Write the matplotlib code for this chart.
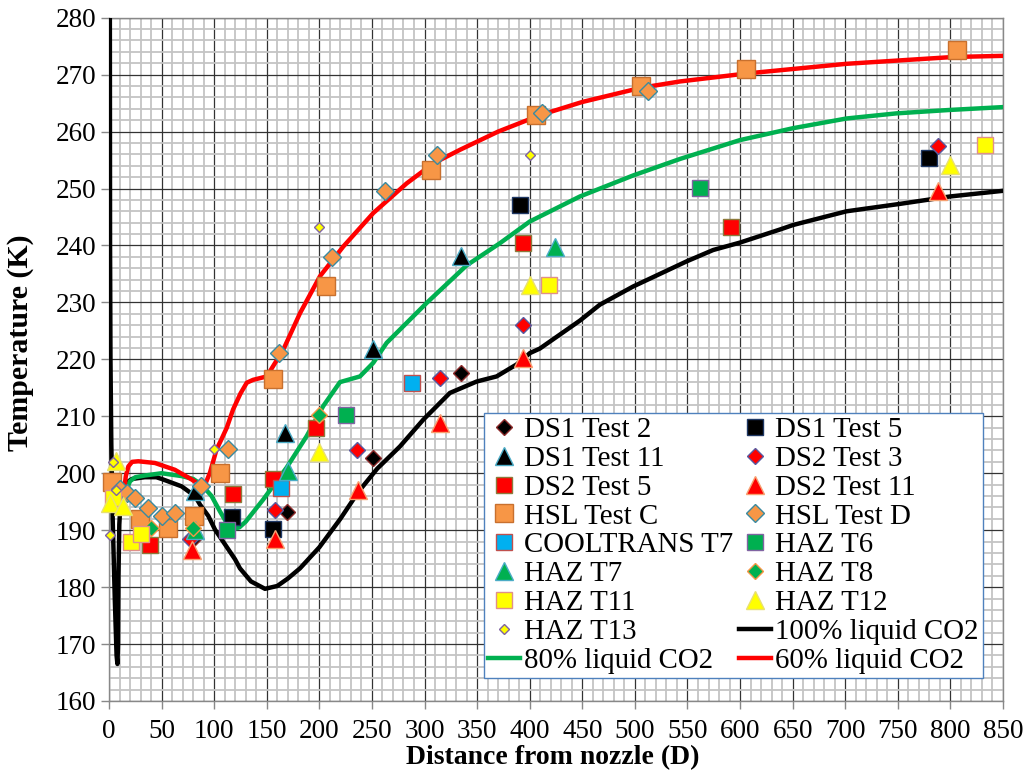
import matplotlib
matplotlib.use("Agg")
import matplotlib.pyplot as plt
from matplotlib.ticker import MultipleLocator

plt.rcParams['font.family'] = ['Liberation Serif', 'DejaVu Serif']

# ---------------- data ----------------
ds1_t2_x = [80, 169, 251, 335]
ds1_t2_y = [188.5, 193.2, 202.6, 217.6]
ds1_t5_x = [117, 156, 391, 780]
ds1_t5_y = [192.3, 190.2, 247.1, 255.3]
ds1_t11_x = [82, 167, 251, 335]
ds1_t11_y = [196.8, 207.1, 221.8, 238.1]
ds2_t3_x = [77, 158, 236, 315, 394, 788]
ds2_t3_y = [188.5, 193.6, 204.1, 216.7, 226.1, 257.4]
ds2_t5_x = [39, 118, 156, 197, 394, 591]
ds2_t5_y = [187.4, 196.3, 198.9, 208.0, 240.4, 243.3]
ds2_t11_x = [79, 158, 237, 315, 394, 788]
ds2_t11_y = [186.6, 188.4, 197.1, 208.8, 220.2, 249.6]
hsl_c_x = [3, 29, 56, 81, 106, 156, 206, 306, 406, 506, 606, 806]
hsl_c_y = [198.5, 191.9, 190.4, 192.5, 200.1, 216.6, 232.8, 253.3, 262.9, 268.0, 271.0, 274.3]
hsl_d_x = [10, 17, 25, 37, 50, 63, 87, 113, 162, 212, 262, 312, 412, 512]
hsl_d_y = [197.2, 196.5, 195.7, 193.9, 192.5, 193.1, 197.7, 204.3, 221.1, 237.9, 249.6, 255.9, 263.3, 267.1]
cool_t7_x = [164, 288]
cool_t7_y = [197.4, 215.9]
haz_t6_x = [112, 225, 562]
haz_t6_y = [190.1, 210.2, 250.1]
haz_t7_x = [82, 170, 424]
haz_t7_y = [190.1, 200.4, 239.8]
haz_t8_x = [40, 80, 200]
haz_t8_y = [190.4, 190.3, 210.2]
haz_t11_x = [4, 21, 30, 418, 833]
haz_t11_y = [195.7, 187.9, 189.4, 233.1, 257.7]
haz_t12_x = [1, 7, 13, 200, 400, 800]
haz_t12_y = [194.8, 202.2, 194.2, 203.8, 233.1, 254.2]
haz_t13_x = [1, 4, 7, 100, 200, 400]
haz_t13_y = [189.2, 201.9, 197.1, 204.2, 243.3, 255.9]

liq100_x = [0.8, 1.0, 1.4, 2.2, 3.5, 5.5, 7.2, 8.0, 8.6, 9.0, 9.8, 11, 13, 16, 22, 34, 45, 50,
            69, 81.7, 86.5, 94.4, 100.8, 107, 119.8, 124.5, 135, 148.3, 160, 170, 181.6, 200,
            220, 237, 255, 276.6, 298.8, 324.1, 349.5, 368.5, 387.5, 400.2, 409.7, 447.7,
            466.7, 498.4, 549.1, 574.4, 599.8, 637.9, 650.5, 701.2, 751.9, 799.4, 850]
liq100_y = [285, 240, 220, 205, 192, 178, 168, 166.5, 170, 182, 191, 195, 197.2, 198.3, 199.0,
            199.3, 199.3, 199.0, 197.7, 196.0, 194.5, 192.5, 190.1, 188.4, 184.9, 183.3, 181.0,
            179.7, 180.2, 181.5, 183.3, 187.0, 192.0, 196.7, 200.8, 204.7, 209.4, 214.1, 216.1,
            217.0, 219.1, 221.1, 221.9, 226.8, 229.6, 232.8, 237.2, 239.2, 240.5, 242.8, 243.6,
            246.0, 247.3, 248.6, 249.6]
liq80_x = [17, 20, 25, 34, 50, 69, 80, 88, 97.5, 105.5, 113.4, 120, 124, 130, 146.7, 168.9,
           187.9, 203.7, 219.6, 238.6, 251.3, 264, 302, 340, 371.7, 400, 447.7, 498.4, 543,
           599.8, 650.5, 701.2, 748.8, 799.4, 850]
liq80_y = [197.3, 198.6, 199.3, 199.6, 200.0, 199.5, 199.0, 198.0, 196.0, 193.3, 190.8, 190.3,
           190.5, 191.5, 195.4, 201.0, 206.5, 211.8, 216.0, 217.0, 219.4, 222.9, 229.9, 236.5,
           240.4, 244.2, 248.6, 252.3, 255.2, 258.5, 260.6, 262.3, 263.2, 263.8, 264.3]
liq60_x = [14.6, 16, 18.4, 22, 27.9, 43.7, 62.7, 78.6, 88, 92, 96, 102.3, 107, 112, 118, 125,
           131, 137, 150, 165.7, 181.6, 200.6, 222.7, 251.3, 283, 308.3, 333.7, 370, 410, 450,
           506, 542.8, 606, 701, 802.6, 850]
liq60_y = [197.4, 199.5, 201.2, 202.0, 202.1, 201.8, 200.6, 198.9, 197.7, 198.3, 200.1, 204.2,
           206.0, 208.0, 211.2, 214.0, 215.9, 216.4, 217.0, 221.7, 228.1, 234.6, 239.8, 245.7,
           250.9, 254.4, 256.8, 260.0, 262.9, 265.2, 267.7, 268.8, 270.2, 271.9, 273.1, 273.3]

# ---------------- figure ----------------
fig = plt.figure(figsize=(10.30, 7.77), dpi=100)
ax = fig.add_axes([109/1030, 1-701/777, (1003-109)/1030, (701-17.7)/777])

ax.set_xlim(0, 850)
ax.set_ylim(160, 280)
ax.xaxis.set_major_locator(MultipleLocator(50))
ax.xaxis.set_minor_locator(MultipleLocator(10))
ax.yaxis.set_major_locator(MultipleLocator(10))
ax.yaxis.set_minor_locator(MultipleLocator(2))
ax.grid(which='minor', color='#c4c4c4', lw=1.3, zorder=0)
ax.grid(which='major', color='#333333', lw=0.9, zorder=0.5)
ax.set_axisbelow(True)
for s in ax.spines.values():
    s.set_color('#888888')
    s.set_linewidth(1.0)
ax.tick_params(which='major', direction='out', length=6, width=1, color='#888888',
               labelsize=19.5)
ax.tick_params(axis='x', which='major', pad=7)
ax.tick_params(axis='y', which='major', pad=3)
ax.tick_params(which='minor', length=0)

ax.set_xlabel('Distance from nozzle (D)', fontsize=20, fontweight='bold')
ax.xaxis.set_label_coords(0.496, -0.064)
ax.set_ylabel('Temperature (K)', fontsize=21.5, fontweight='bold')
ax.yaxis.set_label_coords(-0.084, 0.524)

# curves
l100, = ax.plot(liq100_x, liq100_y, color='black', lw=3.2, zorder=3,
                label='100% liquid CO2', solid_joinstyle='round')
l80, = ax.plot(liq80_x, liq80_y, color='#00b050', lw=3.2, zorder=3,
               label='80% liquid CO2', solid_joinstyle='round')
l60, = ax.plot(liq60_x, liq60_y, color='#ff0000', lw=3.2, zorder=3,
               label='60% liquid CO2', solid_joinstyle='round')

def pts(x, y, marker, ms, fc, ec, label, mew=1.0):
    h, = ax.plot(x, y, linestyle='none', marker=marker, ms=ms, mfc=fc, mec=ec, mew=mew,
                 zorder=4, label=label, clip_on=False)
    return h

h = {}
h['DS1 Test 2'] = pts(ds1_t2_x, ds1_t2_y, 'D', 8.3, 'black', '#8b2a2a', 'DS1 Test 2')
h['DS1 Test 5'] = pts(ds1_t5_x, ds1_t5_y, 's', 12.2, 'black', '#1f3864', 'DS1 Test 5')
h['DS1 Test 11'] = pts(ds1_t11_x, ds1_t11_y, '^', 12.5, 'black', '#4bacc6', 'DS1 Test 11')
h['DS2 Test 3'] = pts(ds2_t3_x, ds2_t3_y, 'D', 8.3, '#ff0000', '#5a5aa0', 'DS2 Test 3')
h['DS2 Test 5'] = pts(ds2_t5_x, ds2_t5_y, 's', 12.2, '#ff0000', '#8c7a3c', 'DS2 Test 5')
h['DS2 Test 11'] = pts(ds2_t11_x, ds2_t11_y, '^', 12.5, '#ff0000', '#f7a070', 'DS2 Test 11')
h['HSL Test C'] = pts(hsl_c_x, hsl_c_y, 's', 12.6, '#f79646', '#c8702e', 'HSL Test C')
h['HSL Test D'] = pts(hsl_d_x, hsl_d_y, 'D', 9.3, '#f79646', '#3a8aa0', 'HSL Test D')
h['COOLTRANS T7'] = pts(cool_t7_x, cool_t7_y, 's', 12.2, '#00b0f0', '#c0504d', 'COOLTRANS T7')
h['HAZ T6'] = pts(haz_t6_x, haz_t6_y, 's', 12.2, '#00b050', '#8064a2', 'HAZ T6')
h['HAZ T7'] = pts(haz_t7_x, haz_t7_y, '^', 12.5, '#00b050', '#4bacc6', 'HAZ T7')
h['HAZ T8'] = pts(haz_t8_x, haz_t8_y, 'D', 8.3, '#00b050', '#f79646', 'HAZ T8')
h['HAZ T11'] = pts(haz_t11_x, haz_t11_y, 's', 12.2, '#ffff00', '#e0908a', 'HAZ T11')
h['HAZ T12'] = pts(haz_t12_x, haz_t12_y, '^', 12.5, '#ffff00', '#e8e070', 'HAZ T12')
h['HAZ T13'] = pts(haz_t13_x, haz_t13_y, 'D', 5.5, '#ffff00', '#8064a2', 'HAZ T13')

order = ['DS1 Test 2', 'DS1 Test 5', 'DS1 Test 11', 'DS2 Test 3', 'DS2 Test 5',
         'DS2 Test 11', 'HSL Test C', 'HSL Test D', 'COOLTRANS T7', 'HAZ T6', 'HAZ T7',
         'HAZ T8', 'HAZ T11', 'HAZ T12', 'HAZ T13']
handles = [h[k] for k in order] + [l100, l80, l60]
labels = order + ['100% liquid CO2', '80% liquid CO2', '60% liquid CO2']
col1 = handles[0::2]
col2 = handles[1::2]
lab1 = labels[0::2]
lab2 = labels[1::2]

leg = ax.legend(col1 + col2, lab1 + lab2, ncol=2, loc='lower right',
                bbox_to_anchor=(0.9776, 0.0337), fontsize=20.8, numpoints=1,
                frameon=True, fancybox=False, framealpha=1, edgecolor='#4f81bd',
                borderpad=0.15, labelspacing=0.09, handlelength=1.1, handletextpad=0.15,
                columnspacing=0.2, borderaxespad=0)
leg.get_frame().set_linewidth(1.0)
leg.set_zorder(6)

fig.savefig('out.png', dpi=100)
